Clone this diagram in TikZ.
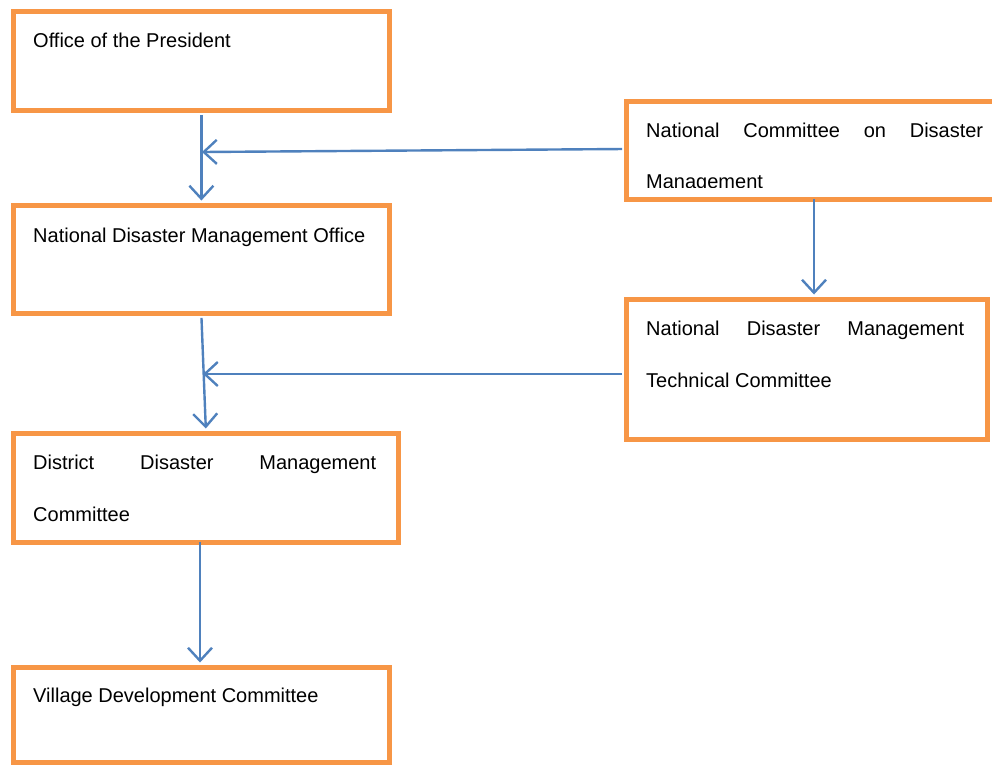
\documentclass[tikz,border=0pt]{standalone}
\usepackage{fontspec}
\setmainfont{Liberation Sans}
\usetikzlibrary{arrows.meta,calc}
\definecolor{boxorange}{HTML}{F79646}
\definecolor{arrowblue}{HTML}{4F81BD}
\begin{document}
\begin{tikzpicture}[x=1pt,y=-1pt,
  box/.style={draw=boxorange,line width=4.8pt,rectangle,inner sep=0pt,anchor=north west},
  txt/.style={inner sep=0pt,anchor=base west,font=\fontsize{20}{24}\selectfont},
  conn/.style={draw=arrowblue,line width=2.4pt,-{Straight Barb[length=13pt,width=24pt,line width=2.4pt]}}]
\useasboundingbox (0,0) rectangle (992,764);
% boxes
\node[box,minimum width=376pt,minimum height=99pt] (office) at (11,9) {};
\node[box,minimum width=376pt,minimum height=108pt] (ndmo) at (11,203) {};
\node[box,minimum width=385pt,minimum height=109pt] (district) at (11,431) {};
\node[box,minimum width=376pt,minimum height=95pt] (village) at (11,665) {};
\node[box,minimum width=380pt,minimum height=98pt] (ncdm) at (624,99) {};
\node[box,minimum width=361pt,minimum height=140pt] (tech) at (624,297) {};
% texts
\node[txt] (t1) at (33,47) {Office of the President};
\node[txt] (t2) at (33,242) {National Disaster Management Office};
\node[txt] (t3a) at (33,469) {\hbox to 343pt{District\hfill Disaster\hfill Management}};
\node[txt] (t3b) at (33,521) {Committee};
\node[txt] (t4) at (33,702) {Village Development Committee};
\begin{scope}
\clip (624,99) rectangle (1004,187.5);
\node[txt] (t5a) at (646,137) {\hbox to 337pt{National\hfill Committee\hfill on\hfill Disaster}};
\node[txt] (t5b) at (646,188) {Management};
\end{scope}
\node[txt] (t6a) at (646,335) {\hbox to 318pt{National\hfill Disaster\hfill Management}};
\node[txt] (t6b) at (646,387) {Technical Committee};
% connector points
\coordinate (j1) at (202,152);
\coordinate (j2) at (203,374);
\coordinate (ncb) at (814,197);
\coordinate (techt) at (814,297);
\coordinate (techw) at (624,374);
\coordinate (ncw) at (624,149);
\coordinate (ds) at (200,540);
\coordinate (vn) at (200,665);
% connectors
\draw[conn,shorten >=2.5pt,shorten <=2pt] (office.south) -- (ndmo.north);
\draw[conn,shorten <=2pt] (ncw) -- (j1);
\draw[conn,shorten >=2.5pt,shorten <=2pt] (ndmo.south) -- (district.north);
\draw[conn,shorten <=2pt] (techw) -- (j2);
\draw[conn,shorten >=2.5pt,shorten <=2pt] (ncb) -- (techt);
\draw[conn,shorten >=2.5pt,shorten <=2pt] (ds) -- (vn);
\end{tikzpicture}
\end{document}
